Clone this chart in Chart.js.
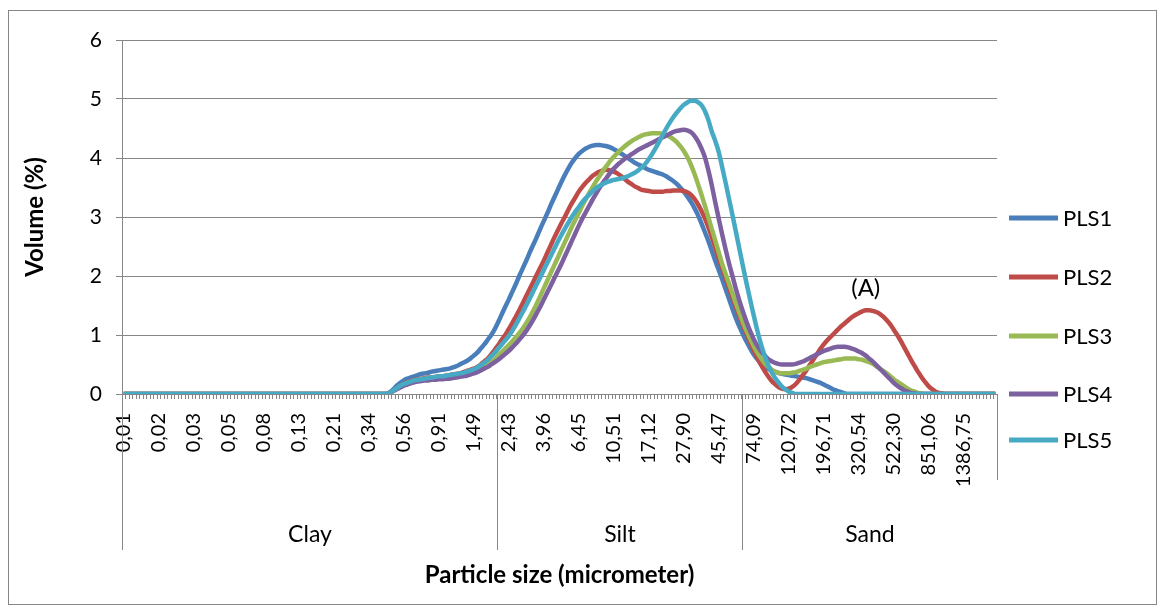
<!DOCTYPE html>
<html>
<head>
<meta charset="utf-8">
<script src="https://cdn.jsdelivr.net/npm/chart.js@4/dist/chart.umd.min.js"></script>
<style>
  html, body { margin: 0; padding: 0; background: #fff; }
  #wrap { position: relative; width: 1165px; height: 614px; }
  #frame { position: absolute; left: 8px; top: 10px; width: 1149px; height: 595px; border: 1px solid #868686; box-sizing: border-box; }
  canvas { position: absolute; left: 0; top: 0; }
</style>
</head>
<body>
<div id="wrap">
  <div id="frame"></div>
  <canvas id="chart" width="1165" height="614"></canvas>
</div>
<script>
// size classes: one label every 10 classes
const sizeLabels = ['0,01', '0,02', '0,03', '0,05', '0,08', '0,13', '0,21', '0,34', '0,56', '0,91',
  '1,49', '2,43', '3,96', '6,45', '10,51', '17,12', '27,90', '45,47', '74,09', '120,72',
  '196,71', '320,54', '522,30', '851,06', '1386,75']
const classCount = 250
const labelEvery = 10

const groups = ['Clay', 'Silt', 'Sand']
const groupClasses = [107, 70, 73]

const seriesNames = ['PLS1', 'PLS2', 'PLS3', 'PLS4', 'PLS5']
const seriesColors = ['#4A7EBB', '#BE4B48', '#98B954', '#7D60A0', '#46AAC5']

// volume % per class, starting at class 75 (everything outside is 0)
const firstClass = 75

const pls1Values = [
  0, 0.03, 0.08, 0.14, 0.19,
  0.23, 0.26, 0.28, 0.3, 0.32, 0.34, 0.35, 0.36, 0.38, 0.39,
  0.4, 0.41, 0.42, 0.43, 0.45, 0.47, 0.5, 0.53, 0.56, 0.6,
  0.65, 0.7, 0.77, 0.84, 0.92, 1.0, 1.1, 1.22, 1.35, 1.48,
  1.6, 1.73, 1.86, 2.0, 2.13, 2.26, 2.4, 2.53, 2.66, 2.8,
  2.93, 3.06, 3.2, 3.33, 3.46, 3.59, 3.71, 3.82, 3.92, 4.0,
  4.07, 4.12, 4.16, 4.19, 4.21, 4.22, 4.22, 4.21, 4.2, 4.18,
  4.15, 4.12, 4.08, 4.04, 4.0, 3.96, 3.92, 3.89, 3.86, 3.83,
  3.8, 3.78, 3.76, 3.74, 3.72, 3.69, 3.65, 3.61, 3.56, 3.5,
  3.43, 3.35, 3.26, 3.16, 3.04, 2.9, 2.75, 2.6, 2.43, 2.26,
  2.1, 1.94, 1.77, 1.6, 1.43, 1.27, 1.13, 1.0, 0.88, 0.77,
  0.67, 0.59, 0.52, 0.47, 0.43, 0.4, 0.38, 0.36, 0.34, 0.33,
  0.32, 0.31, 0.3, 0.29, 0.28, 0.27, 0.25, 0.23, 0.21, 0.19,
  0.16, 0.13, 0.1, 0.07, 0.05, 0.03, 0.01, 0
]

const pls2Values = [
  0, 0.02, 0.06, 0.1, 0.14,
  0.17, 0.2, 0.22, 0.24, 0.25, 0.26, 0.27, 0.28, 0.28, 0.29,
  0.3, 0.3, 0.31, 0.32, 0.33, 0.34, 0.35, 0.37, 0.39, 0.41,
  0.43, 0.46, 0.5, 0.55, 0.6, 0.67, 0.75, 0.83, 0.92, 1.0,
  1.1, 1.2, 1.31, 1.42, 1.54, 1.66, 1.78, 1.9, 2.02, 2.14,
  2.26, 2.39, 2.52, 2.65, 2.77, 2.89, 3.0, 3.12, 3.23, 3.33,
  3.43, 3.51, 3.58, 3.64, 3.7, 3.74, 3.77, 3.79, 3.8, 3.79,
  3.77, 3.74, 3.7, 3.65, 3.6, 3.56, 3.52, 3.49, 3.46, 3.45,
  3.44, 3.43, 3.43, 3.43, 3.43, 3.44, 3.44, 3.45, 3.45, 3.45,
  3.44, 3.42, 3.38, 3.31, 3.22, 3.11, 2.98, 2.83, 2.66, 2.48,
  2.3, 2.13, 1.96, 1.79, 1.62, 1.46, 1.3, 1.15, 1.01, 0.87,
  0.74, 0.62, 0.5, 0.4, 0.31, 0.23, 0.17, 0.12, 0.09, 0.08,
  0.09, 0.12, 0.17, 0.24, 0.32, 0.4, 0.49, 0.58, 0.67, 0.76,
  0.84, 0.91, 0.97, 1.03, 1.09, 1.15, 1.2, 1.25, 1.3, 1.34,
  1.37, 1.4, 1.42, 1.42, 1.41, 1.39, 1.36, 1.31, 1.25, 1.18,
  1.09, 1.0, 0.9, 0.79, 0.68, 0.57, 0.47, 0.37, 0.28, 0.2,
  0.13, 0.08, 0.04, 0.02, 0.01, 0
]

const pls3Values = [
  0, 0.02, 0.05, 0.09, 0.13,
  0.16, 0.19, 0.21, 0.23, 0.24, 0.25, 0.26, 0.27, 0.27, 0.28,
  0.28, 0.29, 0.29, 0.3, 0.31, 0.32, 0.33, 0.34, 0.35, 0.37,
  0.38, 0.4, 0.43, 0.46, 0.5, 0.54, 0.59, 0.65, 0.71, 0.77,
  0.83, 0.89, 0.96, 1.03, 1.11, 1.2, 1.3, 1.41, 1.53, 1.66,
  1.79, 1.92, 2.05, 2.18, 2.31, 2.44, 2.57, 2.7, 2.83, 2.95,
  3.07, 3.19, 3.3, 3.41, 3.51, 3.61, 3.7, 3.79, 3.87, 3.95,
  4.02, 4.08, 4.14, 4.19, 4.24, 4.28, 4.32, 4.35, 4.38, 4.4,
  4.41, 4.42, 4.42, 4.42, 4.41, 4.39, 4.36, 4.32, 4.27, 4.2,
  4.12, 4.02, 3.89, 3.74, 3.57, 3.39, 3.2, 3.0, 2.8, 2.6,
  2.4, 2.2, 2.03, 1.86, 1.69, 1.52, 1.36, 1.2, 1.06, 0.93,
  0.81, 0.7, 0.61, 0.53, 0.47, 0.42, 0.38, 0.36, 0.35, 0.35,
  0.35, 0.36, 0.37, 0.39, 0.41, 0.43, 0.46, 0.48, 0.5, 0.52,
  0.54, 0.55, 0.56, 0.57, 0.58, 0.59, 0.6, 0.6, 0.6, 0.6,
  0.59, 0.58, 0.56, 0.54, 0.51, 0.47, 0.43, 0.39, 0.35, 0.3,
  0.25, 0.21, 0.17, 0.13, 0.09, 0.06, 0.04, 0.02, 0.01, 0
]

const pls4Values = [
  0, 0.02, 0.05, 0.08, 0.11,
  0.14, 0.16, 0.18, 0.2, 0.21, 0.22, 0.23, 0.23, 0.24, 0.24,
  0.25, 0.25, 0.26, 0.26, 0.27, 0.28, 0.29, 0.3, 0.31, 0.33,
  0.35, 0.37, 0.4, 0.43, 0.46, 0.5, 0.54, 0.58, 0.63, 0.68,
  0.73, 0.79, 0.85, 0.92, 0.99, 1.07, 1.16, 1.26, 1.37, 1.48,
  1.6, 1.72, 1.84, 1.96, 2.08, 2.2, 2.33, 2.46, 2.59, 2.72,
  2.85, 2.97, 3.08, 3.19, 3.3, 3.4, 3.5, 3.59, 3.67, 3.75,
  3.82, 3.88, 3.93, 3.98, 4.02, 4.06, 4.1, 4.14, 4.17, 4.2,
  4.23, 4.26, 4.29, 4.32, 4.35, 4.38, 4.41, 4.44, 4.46, 4.47,
  4.48, 4.47, 4.44, 4.38, 4.29, 4.17, 4.02, 3.8, 3.54, 3.25,
  2.97, 2.7, 2.44, 2.2, 1.98, 1.76, 1.56, 1.38, 1.21, 1.06,
  0.93, 0.82, 0.73, 0.66, 0.6, 0.56, 0.53, 0.51, 0.5, 0.5,
  0.5, 0.5, 0.51, 0.53, 0.55, 0.58, 0.61, 0.64, 0.67, 0.7,
  0.73, 0.75, 0.77, 0.79, 0.8, 0.8, 0.8, 0.79, 0.77, 0.75,
  0.72, 0.69, 0.65, 0.6, 0.55, 0.49, 0.43, 0.37, 0.31, 0.25,
  0.19, 0.14, 0.1, 0.06, 0.04, 0.02, 0.01, 0
]

const pls5Values = [
  0, 0.02, 0.06, 0.1, 0.14,
  0.17, 0.19, 0.21, 0.23, 0.24, 0.25, 0.26, 0.27, 0.28, 0.29,
  0.3, 0.3, 0.31, 0.32, 0.33, 0.34, 0.35, 0.36, 0.38, 0.4,
  0.42, 0.45, 0.49, 0.53, 0.58, 0.64, 0.7, 0.77, 0.84, 0.91,
  0.98, 1.07, 1.17, 1.28, 1.39, 1.5, 1.62, 1.74, 1.86, 1.98,
  2.1, 2.22, 2.34, 2.46, 2.58, 2.69, 2.8, 2.9, 3.0, 3.09,
  3.17, 3.25, 3.32, 3.38, 3.44, 3.49, 3.53, 3.56, 3.59, 3.61,
  3.63, 3.64, 3.65, 3.67, 3.69, 3.72, 3.75, 3.79, 3.84, 3.9,
  3.98, 4.07, 4.17, 4.28, 4.39, 4.5, 4.6, 4.69, 4.77, 4.84,
  4.9, 4.94, 4.97, 4.97, 4.95, 4.9, 4.8, 4.65, 4.45, 4.29,
  4.1, 3.84, 3.57, 3.29, 3.01, 2.72, 2.43, 2.14, 1.86, 1.59,
  1.33, 1.08, 0.86, 0.67, 0.51, 0.38, 0.28, 0.2, 0.13, 0.08,
  0.04, 0.02, 0
]

const FONT = 'Lato, "Noto Sans", sans-serif'
const GRID = '#868686'

function fullSeries(values) {
  const out = new Array(classCount).fill(0)
  values.forEach((v, k) => { out[firstClass + k] = v })
  return out
}

const categories = Array.from({ length: classCount }, (_, i) =>
  i % labelEvery === 0 ? sizeLabels[i / labelEvery] : '')

const series = [pls1Values, pls2Values, pls3Values, pls4Values, pls5Values].map(fullSeries)

// second row of the category axis (Clay / Silt / Sand) plus legend and the (A) mark
const extras = {
  id: 'extras',
  afterDraw(chart) {
    const { ctx, scales: { x, y } } = chart
    ctx.save()
    ctx.strokeStyle = GRID
    ctx.lineWidth = 1

    const axisY = Math.round(y.getPixelForValue(0))
    const edgeX = (cls) => Math.round(x.getPixelForValue(cls - 0.5)) + 0.5

    let cls = 0
    const edges = [0]
    groupClasses.forEach((n) => { cls += n; edges.push(cls) })
    edges.forEach((e, k) => {
      const px = edgeX(e)
      ctx.beginPath()
      ctx.moveTo(px, axisY)
      ctx.lineTo(px, k === edges.length - 1 ? 480 : 550)
      ctx.stroke()
    })

    ctx.fillStyle = '#000'
    ctx.font = '23px ' + FONT
    ctx.textAlign = 'center'
    ctx.textBaseline = 'middle'
    groups.forEach((g, k) => {
      ctx.fillText(g, (edgeX(edges[k]) + edgeX(edges[k + 1])) / 2, 535)
    })

    // (A) above the sand peak of PLS2
    const red = series[1]
    let peak = 200
    for (let i = 200; i < classCount; i++) if (red[i] > red[peak]) peak = i
    ctx.font = '24px ' + FONT
    ctx.fillText('(A)', x.getPixelForValue(peak), y.getPixelForValue(red[peak]) - 22)

    // legend
    const rows = [218, 277, 336, 394, 440]
    ctx.textAlign = 'left'
    ctx.font = '22px ' + FONT
    seriesNames.forEach((name, i) => {
      ctx.strokeStyle = seriesColors[i]
      ctx.lineWidth = 5
      ctx.beginPath()
      ctx.moveTo(1009, rows[i])
      ctx.lineTo(1058, rows[i])
      ctx.stroke()
      ctx.fillText(name, 1063, rows[i] + 1)
    })
    ctx.restore()
  }
}

new Chart(document.getElementById('chart'), {
  type: 'line',
  data: {
    labels: categories,
    datasets: series.map((data, i) => ({
      label: seriesNames[i],
      data,
      borderColor: seriesColors[i],
      borderWidth: 4.5,
      pointRadius: 0,
      cubicInterpolationMode: 'monotone',
      order: seriesNames.length - i
    }))
  },
  options: {
    responsive: false,
    animation: false,
    layout: { padding: { left: 10, right: 168, top: 40, bottom: 20 } },
    plugins: { legend: { display: false }, tooltip: { enabled: false } },
    scales: {
      x: {
        offset: true,
        afterFit(scale) { scale.height = 200 },
        grid: { offset: true, drawOnChartArea: false, tickLength: 5, color: GRID },
        border: { color: GRID },
        ticks: {
          autoSkip: false,
          minRotation: 90,
          maxRotation: 90,
          padding: 14,
          color: '#000',
          font: { family: FONT, size: 20 }
        },
        title: {
          display: true,
          text: 'Particle size (micrometer)',
          color: '#000',
          font: { family: FONT, size: 24, weight: 'bold' },
          padding: { bottom: 4 }
        }
      },
      y: {
        min: 0,
        max: 6,
        afterFit(scale) { scale.width = 112 },
        grid: { color: GRID, tickLength: 6 },
        border: { color: GRID },
        ticks: {
          stepSize: 1,
          padding: 14,
          color: '#000',
          font: { family: FONT, size: 21 }
        },
        title: {
          display: true,
          text: 'Volume (%)',
          color: '#000',
          font: { family: FONT, size: 24, weight: 'bold' },
          padding: { top: 11 }
        }
      }
    }
  },
  plugins: [extras]
})
</script>
</body>
</html>
